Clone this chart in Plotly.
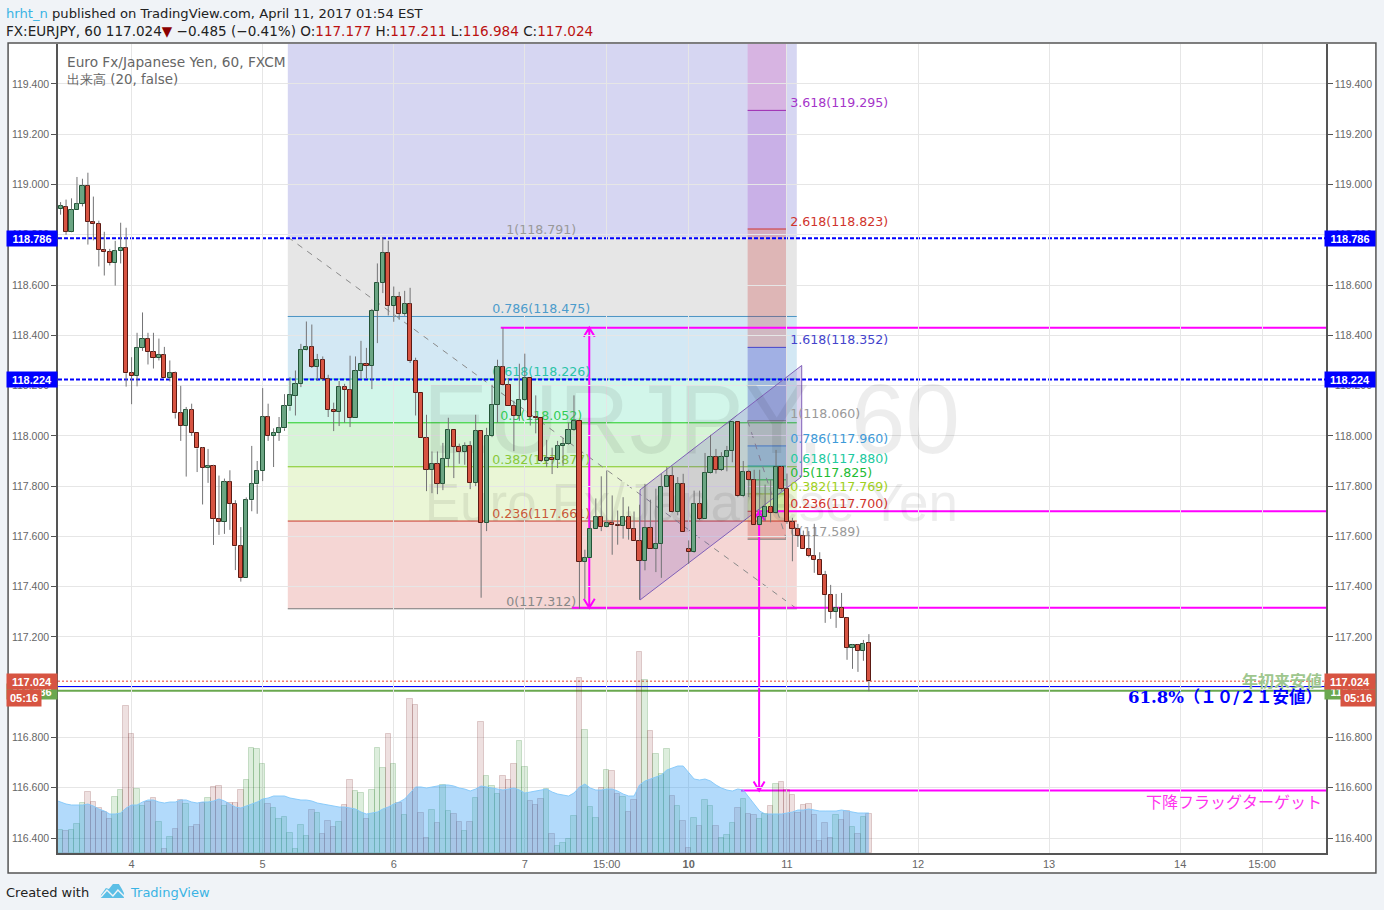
import plotly.graph_objects as go

# Candles, one hourly bar per index
opens = [118.902, 118.911, 118.812, 118.900, 118.923, 118.995, 118.852, 118.844, 118.740, 118.732,
         118.688, 118.736, 118.748, 118.249, 118.238, 118.351, 118.387, 118.334, 118.310, 118.322,
         118.229, 118.250, 118.090, 118.040, 118.103, 118.012, 117.950, 117.873, 117.880, 117.670,
         117.658, 117.815, 117.730, 117.560, 117.435, 117.744, 117.807, 117.860, 118.074, 118.000,
         118.012, 118.030, 118.117, 118.160, 118.207, 118.342, 118.354, 118.275, 118.303, 118.227,
         118.104, 118.095, 118.195, 118.183, 118.072, 118.259, 118.287, 118.279, 118.498, 118.609,
         118.728, 118.517, 118.553, 118.486, 118.525, 118.299, 118.171, 117.992, 117.865, 117.889,
         117.810, 117.909, 118.024, 117.957, 117.937, 117.961, 117.813, 118.020, 117.654, 118.000,
         118.124, 118.274, 118.203, 118.120, 118.080, 118.144, 118.231, 118.076, 118.072, 117.901,
         117.913, 117.905, 117.960, 117.969, 118.024, 118.060, 117.499, 117.515, 117.630, 117.678,
         117.638, 117.654, 117.646, 117.642, 117.678, 117.630, 117.583, 117.503, 117.634, 117.551,
         117.571, 117.797, 117.841, 117.698, 117.809, 117.550, 117.538, 117.729, 117.670, 117.853,
         117.916, 117.865, 117.916, 117.940, 118.056, 117.760, 117.857, 117.825, 117.646, 117.678,
         117.717, 117.694, 117.877, 117.789, 117.658, 117.630, 117.602, 117.550, 117.523, 117.507,
         117.447, 117.367, 117.300, 117.316, 117.276, 117.157, 117.169, 117.145, 117.177]
highs = [118.930, 118.940, 118.945, 119.030, 119.023, 119.047, 118.952, 118.856, 118.812, 118.744,
         118.776, 118.848, 118.828, 118.313, 118.410, 118.491, 118.410, 118.410, 118.387, 118.354,
         118.300, 118.256, 118.199, 118.115, 118.128, 118.012, 117.955, 117.948, 117.885, 117.842,
         117.830, 117.863, 117.744, 117.637, 117.755, 117.960, 117.900, 118.190, 118.128, 118.030,
         118.075, 118.166, 118.233, 118.260, 118.366, 118.455, 118.443, 118.326, 118.316, 118.243,
         118.132, 118.218, 118.207, 118.319, 118.316, 118.378, 118.350, 118.505, 118.686, 118.790,
         118.776, 118.594, 118.573, 118.577, 118.589, 118.311, 118.171, 118.084, 117.938, 117.938,
         117.972, 118.072, 118.024, 117.969, 117.974, 117.979, 118.084, 118.020, 118.032, 118.203,
         118.303, 118.430, 118.230, 118.140, 118.287, 118.327, 118.231, 118.161, 118.072, 117.984,
         117.953, 117.980, 117.992, 118.052, 118.161, 118.060, 117.547, 117.664, 117.751, 117.839,
         117.862, 117.763, 117.703, 117.756, 117.719, 117.699, 117.726, 117.809, 117.746, 117.790,
         117.849, 117.876, 117.878, 117.836, 117.849, 117.584, 117.782, 117.782, 117.932, 118.004,
         117.948, 117.935, 117.960, 118.058, 118.056, 117.900, 117.865, 117.865, 117.865, 117.806,
         117.825, 117.944, 117.880, 117.850, 117.674, 117.650, 117.623, 117.621, 117.650, 117.537,
         117.463, 117.407, 117.371, 117.375, 117.278, 117.172, 117.172, 117.188, 117.211]
lows = [118.880, 118.800, 118.810, 118.900, 118.913, 118.761, 118.778, 118.674, 118.638, 118.678,
        118.598, 118.686, 118.196, 118.126, 118.197, 118.338, 118.284, 118.268, 118.300, 118.229,
        118.217, 118.069, 117.980, 117.838, 118.000, 117.856, 117.727, 117.813, 117.566, 117.606,
        117.610, 117.626, 117.466, 117.420, 117.435, 117.700, 117.690, 117.820, 117.980, 117.876,
        117.980, 118.020, 118.100, 118.081, 118.194, 118.340, 118.270, 118.220, 118.220, 118.075,
        118.019, 118.039, 118.052, 118.035, 118.072, 118.227, 118.227, 118.186, 118.369, 118.568,
        118.479, 118.454, 118.462, 118.478, 118.290, 118.081, 117.992, 117.780, 117.772, 117.768,
        117.784, 117.876, 117.832, 117.889, 117.885, 117.788, 117.800, 117.356, 117.621, 117.995,
        118.052, 118.200, 118.120, 117.939, 118.060, 118.140, 118.041, 118.010, 117.896, 117.876,
        117.848, 117.872, 117.881, 117.965, 118.020, 117.312, 117.352, 117.515, 117.630, 117.621,
        117.636, 117.527, 117.567, 117.591, 117.587, 117.583, 117.348, 117.465, 117.551, 117.458,
        117.435, 117.797, 117.695, 117.684, 117.618, 117.491, 117.535, 117.665, 117.670, 117.850,
        117.850, 117.860, 117.859, 117.895, 117.756, 117.756, 117.756, 117.646, 117.643, 117.660,
        117.656, 117.690, 117.782, 117.650, 117.501, 117.558, 117.550, 117.517, 117.455, 117.447,
        117.256, 117.272, 117.236, 117.276, 117.109, 117.073, 117.061, 117.105, 116.984]
closes = [118.914, 118.812, 118.900, 118.923, 118.995, 118.852, 118.844, 118.740, 118.732, 118.688,
          118.736, 118.748, 118.249, 118.238, 118.351, 118.387, 118.334, 118.310, 118.322, 118.229,
          118.250, 118.090, 118.040, 118.103, 118.012, 117.950, 117.873, 117.880, 117.670, 117.658,
          117.815, 117.730, 117.560, 117.435, 117.744, 117.807, 117.860, 118.074, 118.000, 118.012,
          118.030, 118.117, 118.161, 118.207, 118.342, 118.354, 118.275, 118.303, 118.227, 118.104,
          118.095, 118.195, 118.183, 118.072, 118.259, 118.287, 118.279, 118.498, 118.609, 118.728,
          118.517, 118.553, 118.486, 118.525, 118.299, 118.171, 117.992, 117.865, 117.889, 117.810,
          117.909, 118.024, 117.957, 117.937, 117.961, 117.813, 118.020, 117.654, 118.000, 118.124,
          118.274, 118.203, 118.120, 118.080, 118.144, 118.231, 118.076, 118.072, 117.901, 117.913,
          117.905, 117.960, 117.969, 118.024, 118.060, 117.499, 117.515, 117.630, 117.678, 117.638,
          117.654, 117.646, 117.642, 117.678, 117.630, 117.583, 117.503, 117.634, 117.551, 117.571,
          117.797, 117.841, 117.698, 117.809, 117.618, 117.538, 117.729, 117.670, 117.853, 117.916,
          117.865, 117.916, 117.940, 118.056, 117.760, 117.857, 117.825, 117.646, 117.678, 117.717,
          117.694, 117.877, 117.789, 117.658, 117.630, 117.602, 117.550, 117.523, 117.507, 117.447,
          117.367, 117.300, 117.316, 117.276, 117.157, 117.169, 117.145, 117.172, 117.024]

# Volume has no scale on the chart, values are relative
volumes = [23, 22, 23, 29, 50, 61, 51, 45, 41, 34, 56, 63, 147, 119, 64, 47, 51, 55, 31, 4,
           16, 24, 53, 49, 26, 28, 50, 55, 66, 67, 47, 50, 50, 63, 73, 105, 104, 89, 49, 45,
           34, 36, 20, 4, 28, 17, 43, 40, 19, 32, 26, 31, 48, 73, 62, 60, 34, 63, 105, 85,
           119, 89, 50, 38, 154, 148, 40, 15, 43, 30, 68, 42, 39, 31, 22, 31, 55, 131, 77, 67,
           59, 77, 73, 89, 112, 86, 52, 48, 54, 64, 19, 7, 10, 14, 37, 175, 123, 46, 35, 65,
           83, 82, 59, 56, 41, 53, 201, 173, 122, 99, 79, 104, 57, 47, 32, 5, 35, 27, 53, 47,
           27, 15, 18, 30, 45, 54, 39, 38, 34, 39, 47, 69, 71, 63, 58, 40, 48, 49, 38, 12,
           30, 15, 38, 33, 42, 26, 19, 36, 39]
# 20 bar volume average, first value belongs to the bar left of the pane
volume_ma = [53, 51, 49, 48, 48, 48, 49, 47, 44, 42, 39, 39, 40, 45, 48, 48, 51, 53, 53, 51,
             50, 51, 51, 53, 53, 51, 50, 51, 51, 52, 54, 52, 49, 46, 45, 47, 49, 51, 54, 55,
             57, 57, 57, 55, 54, 53, 53, 52, 50, 49, 48, 47, 46, 46, 45, 44, 41, 39, 40, 41,
             44, 46, 49, 51, 54, 60, 66, 66, 65, 66, 67, 68, 68, 67, 65, 64, 62, 64, 67, 66,
             65, 64, 63, 64, 65, 63, 60, 61, 62, 63, 64, 61, 59, 58, 57, 60, 66, 69, 65, 63,
             63, 64, 64, 62, 59, 57, 57, 68, 72, 74, 76, 78, 83, 85, 87, 87, 80, 74, 73, 74,
             72, 68, 65, 63, 62, 64, 63, 56, 48, 42, 39, 39, 39, 39, 40, 41, 43, 43, 44, 43,
             42, 42, 42, 42, 43, 42, 41, 40, 40, 40]

tick_index = [13, 37, 61, 85, 100, 115, 133, 157, 181, 205, 220]
tick_labels = ["4", "5", "6", "7", "15:00", "<b>10</b>", "11", "12", "13", "14", "15:00"]

# Fib retracement on the whole move, x from bar 41.6 to 134.8
fib1_ratios = ["1", "0.786", "0.618", "0.5", "0.382", "0.236", "0"]
fib1_prices = [118.791, 118.475, 118.226, 118.052, 117.877, 117.661, 117.312]
fib1_fills = ["rgba(128,128,128,.2)", "rgba(33,140,200,.2)", "rgba(30,210,150,.2)",
              "rgba(50,200,50,.2)", "rgba(150,210,50,.2)", "rgba(205,50,40,.2)"]
fib1_lines = ["#888888", "#4c94c4", "#1fc4a5", "#22cc22", "#80c820", "#c93a2a", "#777777"]
fib1_text = ["#999999", "#4c9ccc", "#2cc4a8", "#33cc55", "#88c83a", "#c85a3a", "#888888"]

# Second fib, extension column on the flag
fib2_ratios = ["3.618", "2.618", "1.618", "1", "0.786", "0.618", "0.5", "0.382", "0.236", "0"]
fib2_prices = [119.295, 118.823, 118.352, 118.060, 117.960, 117.880, 117.825, 117.769, 117.700, 117.589]
fib2_fills = ["rgba(156,39,190,.22)", "rgba(200,40,40,.25)", "rgba(48,48,192,.3)", "rgba(120,120,120,.25)",
              "rgba(33,120,190,.3)", "rgba(30,190,150,.3)", "rgba(60,190,60,.3)", "rgba(140,200,40,.3)",
              "rgba(200,60,50,.28)"]
fib2_lines = ["#9c27b0", "#d0342c", "#4444cc", "#777777", "#3d85c6", "#20b090", "#22bb33", "#90c020", "#c93a2a", "#777777"]
fib2_text = ["#a535c9", "#d0342c", "#4444cc", "#999999", "#3d9ad9", "#20c9a0", "#22bb33", "#9fd020", "#d0342c", "#999999"]

channel_x = [106.1, 135.7, 135.7, 106.1, 106.1]
channel_y = [117.785, 118.280, 117.838, 117.347, 117.785]

hline_prices = [118.430, 117.700, 117.316, 116.589]
hline_starts = [80.6, 128.0, 93.6, 124.6]

# bar index axis: bar 0 sits at pixel 59.6, 5.47 pixels per bar
X_RANGE = [-0.475, 231.7]
Y_RANGE = [116.3403, 119.5591]
PANE_L, PANE_R, PANE_T, PANE_B = 57, 1327, 44, 853
BAR_PX = 5.47
PRICE_PX = (Y_RANGE[1] - Y_RANGE[0]) / (PANE_B - PANE_T)


def px(x):
    return (x - PANE_L) / (PANE_R - PANE_L)


def py(y):
    return (PANE_B - y) / (PANE_B - PANE_T)


index = list(range(len(opens)))
is_up = [c >= o for o, c in zip(opens, closes)]

fig = go.Figure()

# bottom subplot: volume and its average
fig.add_trace(go.Bar(
    x=index, y=volumes, width=1, yaxis="y",
    marker=dict(color=["rgba(28,142,28,.15)" if u else "rgba(142,48,48,.15)" for u in is_up],
                line=dict(color=["rgba(28,120,28,.2)" if u else "rgba(120,40,40,.2)" for u in is_up], width=1)),
    hoverinfo="skip", showlegend=False))
fig.add_trace(go.Scatter(
    x=list(range(-1, len(opens))), y=volume_ma, mode="lines", yaxis="y", fill="tozeroy",
    line=dict(color="rgba(130,200,250,.9)", width=1), fillcolor="rgba(33,150,243,.35)",
    hoverinfo="skip", showlegend=False))

# drawing subplot: channel, watermark and fib labels stay under the candles
fig.add_trace(go.Scatter(
    x=channel_x, y=channel_y, mode="lines", yaxis="y2", fill="toself",
    line=dict(color="#8060b8", width=1), fillcolor="rgba(103,58,183,.2)",
    hoverinfo="skip", showlegend=False))
fig.add_trace(go.Scatter(
    x=[115.5], y=[118.03], mode="text", yaxis="y2", text=["EURJPY, 60"],
    textfont=dict(family="Liberation Sans", size=98, color="rgba(0,0,0,.07)"),
    hoverinfo="skip", showlegend=False))
fig.add_trace(go.Scatter(
    x=[115.5], y=[117.715], mode="text", yaxis="y2", text=["Euro Fx/Japanese Yen"],
    textfont=dict(family="Liberation Sans", size=53, color="rgba(0,0,0,.07)"),
    hoverinfo="skip", showlegend=False))
fig.add_trace(go.Scatter(
    x=[88.0] * len(fib1_prices), y=fib1_prices, mode="text", yaxis="y2",
    text=[f"{r}({p:.3f})" for r, p in zip(fib1_ratios, fib1_prices)], textposition="top center",
    textfont=dict(family="DejaVu Sans", size=12.6, color=fib1_text),
    hoverinfo="skip", showlegend=False))
fig.add_trace(go.Scatter(
    x=[133.6] * len(fib2_prices), y=fib2_prices, mode="text", yaxis="y2",
    text=[f"{r}({p:.3f})" for r, p in zip(fib2_ratios, fib2_prices)], textposition="top right",
    textfont=dict(family="DejaVu Sans", size=12.6, color=fib2_text),
    hoverinfo="skip", showlegend=False))

# candles: bodies as floating bars, wicks as one broken line in grey
fig.add_trace(go.Bar(
    x=index, y=[abs(c - o) for o, c in zip(opens, closes)], base=[min(o, c) for o, c in zip(opens, closes)],
    width=0.76, yaxis="y3",
    marker=dict(color=["#6ba583" if u else "#d75442" for u in is_up],
                line=dict(color=["#225437" if u else "#5b1a13" for u in is_up], width=1)),
    hoverinfo="skip", showlegend=False))
wick_x, wick_y = [], []
for i in index:
    top, bottom = max(opens[i], closes[i]), min(opens[i], closes[i])
    wick_x += [i, i, None, i, i, None]
    wick_y += [highs[i], top, None, bottom, lows[i], None]
fig.add_trace(go.Scatter(
    x=wick_x, y=wick_y, mode="lines", yaxis="y3", line=dict(color="#737375", width=1),
    hoverinfo="skip", showlegend=False))
# right hand price scale needs a trace to show up
fig.add_trace(go.Scatter(x=[None], y=[None], yaxis="y4", hoverinfo="skip", showlegend=False))

shapes = []
# white chart card with its frame
shapes.append(dict(type="rect", xref="paper", yref="paper", x0=px(7), x1=px(1377), y0=py(873), y1=py(43),
                   fillcolor="white", line=dict(color="#555555", width=1.5), layer="below"))


def zone(x0, x1, y0, y1, color):
    shapes.append(dict(type="rect", xref="x", yref="y2", x0=x0, x1=x1, y0=y0, y1=y1,
                       fillcolor=color, line=dict(width=0), layer="below"))


def level(x0, x1, y, color, width=1, dash="solid"):
    shapes.append(dict(type="line", xref="x", yref="y2", x0=x0, x1=x1, y0=y, y1=y,
                       line=dict(color=color, width=width, dash=dash), layer="below"))


F1_L, F1_R = 41.6, 134.8
F2_L, F2_R = 125.8, 132.9
zone(F1_L, F1_R, fib1_prices[0], Y_RANGE[1], "rgba(48,48,192,.2)")
for i, c in enumerate(fib1_fills):
    zone(F1_L, F1_R, fib1_prices[i + 1], fib1_prices[i], c)
for p, c in zip(fib1_prices[1:], fib1_lines[1:]):
    level(F1_L, F1_R, p, c)
zone(F2_L, F2_R, fib2_prices[0], Y_RANGE[1], "rgba(220,60,170,.22)")
for i, c in enumerate(fib2_fills):
    zone(F2_L, F2_R, fib2_prices[i + 1], fib2_prices[i], c)
for p, c in zip(fib2_prices, fib2_lines):
    level(F2_L, F2_R, p, c)

# dashed trend lines of the two fibs
for x0, y0, x1, y1 in [(F1_L, fib1_prices[0], F1_R, fib1_prices[-1]), (F2_L, fib2_prices[3], F2_R, fib2_prices[-1])]:
    shapes.append(dict(type="line", xref="x", yref="y2", x0=x0, x1=x1, y0=y0, y1=y1,
                       line=dict(color="#8a8a8a", width=1, dash="6px,6px"), layer="below"))

# horizontal price lines
level(X_RANGE[0], X_RANGE[1], 118.786, "#0000ff", 2, "4px,2px")
level(X_RANGE[0], X_RANGE[1], 118.224, "#0000ff", 2, "4px,2px")
level(X_RANGE[0], X_RANGE[1], closes[-1], "#e8392c", 1, "2px,2px")
level(X_RANGE[0], X_RANGE[1], 117.001, "#0000ff", 2)
level(X_RANGE[0], X_RANGE[1], 116.986, "#6aa84f", 2)
for s, p in zip(hline_starts, hline_prices):
    level(s, X_RANGE[1], p, "#ff00ff", 2)

# the two measured moves, each with an open head at both ends
for x, top, bottom in [(96.8, 118.430, 117.316), (127.9, 117.700, 116.589)]:
    hx, hy = 5.5 / BAR_PX, 9 * PRICE_PX
    path = (f"M {x},{top} L {x},{bottom} "
            f"M {x - hx},{top - hy} L {x},{top} L {x + hx},{top - hy} "
            f"M {x - hx},{bottom + hy} L {x},{bottom} L {x + hx},{bottom + hy}")
    shapes.append(dict(type="path", xref="x", yref="y2", path=path,
                       line=dict(color="#ff00ff", width=2), layer="below"))

# tradingview logo in the footer, cloud with a white zigzag through it
logo = [(100, 895), (105, 888), (108, 889), (112, 884), (118, 884), (121, 889), (123, 893), (123, 898),
        (100, 898)]
shapes.append(dict(type="path", xref="paper", yref="paper",
                   path="M " + " L ".join(f"{px(a):.5f},{py(b):.5f}" for a, b in logo) + " Z",
                   fillcolor="#5cbfe6", line=dict(width=0), layer="below"))
zigzag = [(100, 897), (106, 890), (112, 896), (117, 890), (124, 897)]
shapes.append(dict(type="path", xref="paper", yref="paper",
                   path="M " + " L ".join(f"{px(a):.5f},{py(b):.5f}" for a, b in zigzag),
                   line=dict(color="#f0f3f7", width=1.5), layer="below"))

annotations = []


def label(x, y, text, size=13, color="#222222", family="DejaVu Sans", xanchor="left"):
    # annotations sit 3 px inside their anchor
    x = x - 3 if xanchor == "left" else x + 3
    annotations.append(dict(xref="paper", yref="paper", x=px(x), y=py(y), text=text, showarrow=False,
                            xanchor=xanchor, yanchor="middle", align="left",
                            font=dict(family=family, size=size, color=color)))


def price_box(x0, width, y, text, color, height=15):
    annotations.append(dict(xref="paper", yref="paper", x=px(x0 - 2.5), y=py(y), text=f"<b>{text}</b>", showarrow=False,
                            xanchor="left", yanchor="middle", width=width, height=height, borderpad=0,
                            bgcolor=color, align="center",
                            font=dict(family="Liberation Sans", size=11, color="white")))


red = "#bb1111"
label(6, 13, '<span style="color:#3bb3e4">hrht_n</span> published on TradingView.com, April 11, 2017 01:54 EST', size=13.13)
label(6, 31, f'FX:EURJPY, 60 {closes[-1]:.3f}<span style="color:#8b0000">▼</span> −0.485 (−0.41%) '
             f'O:<span style="color:{red}">{opens[-1]:.3f}</span> H:<span style="color:{red}">{highs[-1]:.3f}</span> '
             f'L:<span style="color:{red}">{lows[-1]:.3f}</span> C:<span style="color:{red}">{closes[-1]:.3f}</span>', size=13.55)
label(67, 62, "Euro Fx/Japanese Yen, 60, FXCM", color="#666666", size=13.7)
label(67, 79, "出来高 (20, false)", color="#666666", size=13.4)
label(6, 892, "Created with")
label(130, 892, "TradingView", color="#3bb3e4")
label(1322, 680, "<b>年初来安値</b>", size=16, color="#9ec78e", family="Noto Sans CJK JP", xanchor="right")
label(1322, 697, "<b>61.8%（１０/２１安値）</b>", size=16.5, color="#0000ff",
      family="DejaVu Serif, Noto Sans CJK JP", xanchor="right")
label(1322, 801, "下降フラッグターゲット", size=16, color="#ff33ee", family="Noto Sans CJK JP", xanchor="right")

for p in [118.786, 118.224]:
    y = PANE_T + (Y_RANGE[1] - p) / PRICE_PX
    price_box(7.5, 50, y, f"{p:.3f}", "#0000ff")
    price_box(1327.5, 50, y, f"{p:.3f}", "#0000ff")
y_last = PANE_T + (Y_RANGE[1] - closes[-1]) / PRICE_PX
price_box(1327.5, 50, y_last + 10, "116.986", "#6aa84f")
price_box(7.5, 50, y_last + 10, "116.986", "#6aa84f")
price_box(7.5, 50, y_last, f"{closes[-1]:.3f}", "#d75442")
price_box(1327.5, 50, y_last, f"{closes[-1]:.3f}", "#d75442")
price_box(7.5, 34, y_last + 17, "05:16", "#d75442", 16)
price_box(1343.5, 34, y_last + 17, "05:16", "#d75442", 16)

price_axis = dict(range=Y_RANGE, overlaying="y", anchor="x", fixedrange=True)
label_font = dict(family="Liberation Sans", size=10.5, color="#666666")
fig.update_layout(
    width=1384, height=910,
    margin=dict(l=PANE_L, r=1384 - PANE_R, t=PANE_T, b=910 - PANE_B, pad=0),
    paper_bgcolor="#f0f3f7", plot_bgcolor="white",
    barmode="overlay", bargap=0, showlegend=False,
    shapes=shapes, annotations=annotations,
    xaxis=dict(range=X_RANGE, tickmode="array", tickvals=tick_index, ticktext=tick_labels,
               showgrid=True, gridcolor="#e6e6e6", gridwidth=1, zeroline=False,
               showline=True, linecolor="#555555", linewidth=1.5, ticks="",
               tickfont=dict(family="Liberation Sans", size=11, color="#666666"), fixedrange=True),
    # volume, no visible scale, 1 unit per pixel of pane height
    yaxis=dict(range=[0, PANE_B - PANE_T], visible=False, fixedrange=True),
    yaxis2=dict(visible=False, **price_axis),
    yaxis3=dict(side="left", tickmode="linear", tick0=116.4, dtick=0.2, tickformat=".3f",
                showgrid=True, gridcolor="#e6e6e6", gridwidth=1, zeroline=False,
                showline=True, linecolor="#555555", linewidth=1.5, ticks="outside", ticklen=5, tickcolor="#555555",
                tickfont=label_font, **price_axis),
    yaxis4=dict(side="right", tickmode="linear", tick0=116.4, dtick=0.2, tickformat=".3f",
                showgrid=False, zeroline=False,
                showline=True, linecolor="#555555", linewidth=1.5, ticks="outside", ticklen=5, tickcolor="#555555",
                tickfont=label_font, **price_axis),
)

fig.write_html("out.html", config=dict(displayModeBar=False),
               post_script="document.body.style.margin='0';document.body.style.overflow='hidden';")
